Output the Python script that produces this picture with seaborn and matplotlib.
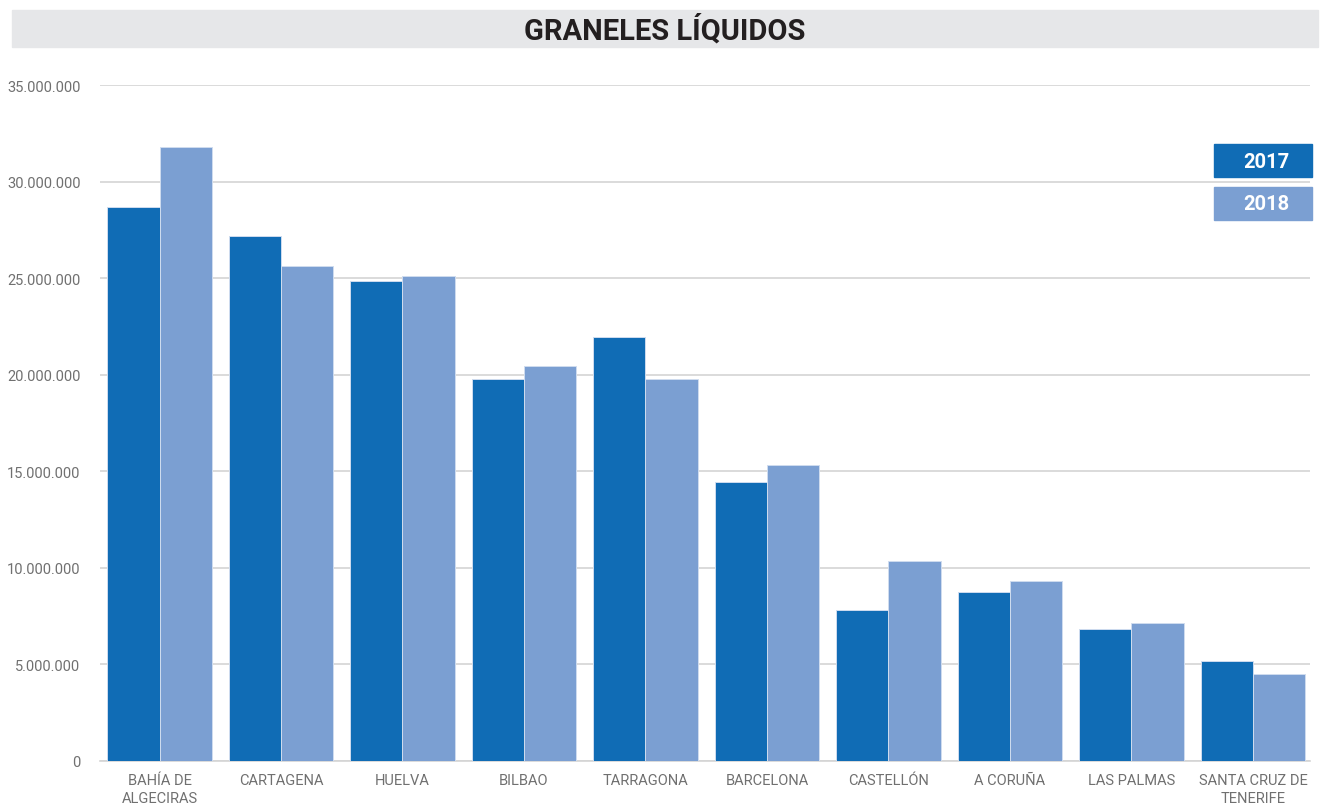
import pandas as pd
import seaborn as sns
import matplotlib.pyplot as plt
from matplotlib.patches import Rectangle

puertos = ['BAHÍA DE\nALGECIRAS', 'CARTAGENA', 'HUELVA', 'BILBAO', 'TARRAGONA',
           'BARCELONA', 'CASTELLÓN', 'A CORUÑA', 'LAS PALMAS', 'SANTA CRUZ DE\nTENERIFE']
valores_2017 = [28.7e6, 27.2e6, 24.85e6, 19.8e6, 21.95e6, 14.45e6, 7.82e6, 8.75e6, 6.83e6, 5.18e6]
valores_2018 = [31.8e6, 25.65e6, 25.12e6, 20.45e6, 19.8e6, 15.35e6, 10.36e6, 9.32e6, 7.14e6, 4.5e6]
anios = ['2017', '2018']
colores = ['#106cb5', '#7b9fd2']

df = pd.DataFrame({
    'puerto': puertos * 2,
    'anio': [anios[0]] * len(puertos) + [anios[1]] * len(puertos),
    'valor': valores_2017 + valores_2018,
})

sns.set_style('white')
plt.rcParams['font.family'] = ['Roboto', 'DejaVu Sans']

fig = plt.figure(figsize=(13.34, 8.04), dpi=100)
ax = fig.add_axes([100 / 1334, 1 - 762 / 804, 1210 / 1334, 676 / 804])

sns.barplot(data=df, x='puerto', y='valor', hue='anio', palette=colores, saturation=1,
            width=0.86, gap=0, edgecolor='#cfdcef', linewidth=0.7,
            legend=False, ax=ax, zorder=3)

ax.set_ylim(0, 35e6)
ax.set_xlim(-0.49, 9.47)
ax.set_yticks(range(0, 35000001, 5000000))
ax.set_yticklabels(['0' if v == 0 else f'{v:,}'.replace(',', '.') for v in range(0, 35000001, 5000000)])
ax.grid(axis='y', color='#d4d4d4', linewidth=1.2, zorder=0)
ax.set_axisbelow(True)
for s in ['top', 'right', 'left']:
    ax.spines[s].set_visible(False)
ax.spines['bottom'].set_color('#d4d4d4')
ax.spines['bottom'].set_linewidth(1.2)
ax.tick_params(axis='both', length=0, labelsize=10.5, labelcolor='#707070')
ax.tick_params(axis='y', pad=14)
ax.tick_params(axis='x', pad=9)
ax.set_xlabel('')
ax.set_ylabel('')
for lbl in ax.get_xticklabels():
    lbl.set_linespacing(1.35)

# franja del título
fig.patches.append(Rectangle((12 / 1334, 1 - 48 / 804), 1306 / 1334, 37 / 804,
                             transform=fig.transFigure, color='#e6e7e9', zorder=0))
fig.text(665 / 1334, 1 - 30 / 804, 'GRANELES LÍQUIDOS', ha='center', va='center',
         fontsize=21, fontweight='bold', color='#231f20')

# leyenda
for i, (anio, col) in enumerate(zip(anios, colores)):
    y0 = 145 + i * 43
    fig.patches.append(Rectangle((1214 / 1334, 1 - (y0 + 33) / 804), 98 / 1334, 33 / 804,
                                 transform=fig.transFigure, color=col, zorder=5))
    fig.text(1289 / 1334, 1 - (y0 + 17) / 804, anio, ha='right', va='center',
             fontsize=14.5, fontweight='bold', color='white', zorder=6)

fig.savefig('out.png', dpi=100)
